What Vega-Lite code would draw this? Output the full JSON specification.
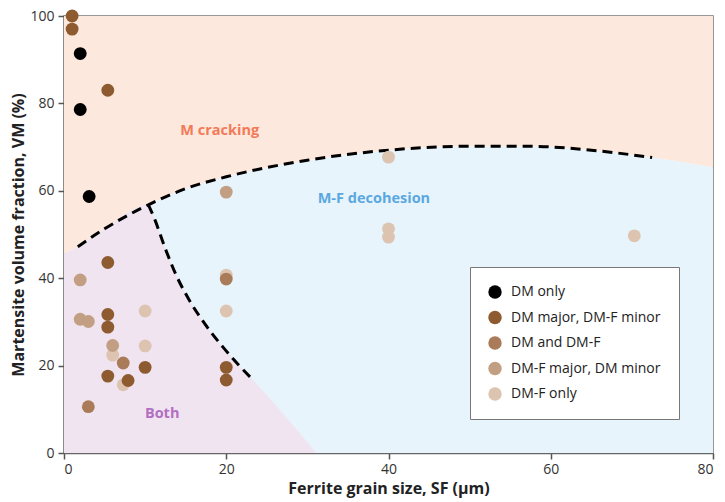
{
  "$schema": "https://vega.github.io/schema/vega-lite/v6.json",
  "width": 649,
  "height": 437,
  "autosize": {"type": "none"},
  "padding": {"left": 64, "top": 16, "right": 12, "bottom": 49},
  "background": "white",
  "config": {
    "font": "Open Sans",
    "view": {"stroke": "#777", "strokeWidth": 1.5},
    "axis": {
      "domainColor": "#666", "domainWidth": 1.5, "tickColor": "#555", "tickWidth": 1.5, "tickSize": 6,
      "labelFontSize": 14, "labelColor": "#333", "labelFont": "Open Sans",
      "titleFontSize": 16, "titleFontWeight": "bold", "titleColor": "#222", "titleFont": "Open Sans",
      "grid": false
    }
  },
  "datasets": {
    "upper": [
      {"x": 0, "y": 45.5}, {"x": 1.7, "y": 47.2}, {"x": 5, "y": 51.3}, {"x": 10.4, "y": 56.8},
      {"x": 15, "y": 60.5}, {"x": 20, "y": 63.2}, {"x": 30, "y": 67}, {"x": 40, "y": 69.3},
      {"x": 50, "y": 70.2}, {"x": 57, "y": 70.2}, {"x": 65, "y": 69.3}, {"x": 72.5, "y": 67.6}, {"x": 80, "y": 65.4}
    ],
    "dash1": [
      {"x": 1.7, "y": 47.2}, {"x": 5, "y": 51.3}, {"x": 10.4, "y": 56.8},
      {"x": 15, "y": 60.5}, {"x": 20, "y": 63.2}, {"x": 30, "y": 67}, {"x": 40, "y": 69.3},
      {"x": 50, "y": 70.2}, {"x": 57, "y": 70.2}, {"x": 65, "y": 69.3}, {"x": 72.5, "y": 67.6}
    ],
    "purple": [
      {"x": 0, "y": 45.5}, {"x": 1.7, "y": 47.2}, {"x": 5, "y": 51.3}, {"x": 10.4, "y": 56.8},
      {"x": 11.2, "y": 53.4}, {"x": 12.4, "y": 47.2}, {"x": 13.8, "y": 40.8}, {"x": 15.5, "y": 34.8},
      {"x": 17.5, "y": 29.2}, {"x": 19.7, "y": 24}, {"x": 21.5, "y": 20.2}, {"x": 23.1, "y": 17.1}, {"x": 31.1, "y": 0}
    ],
    "dash2": [
      {"x": 10.4, "y": 56.8}, {"x": 11.2, "y": 53.4}, {"x": 12.4, "y": 47.2}, {"x": 13.8, "y": 40.8},
      {"x": 15.5, "y": 34.8}, {"x": 17.5, "y": 29.2}, {"x": 19.7, "y": 24}, {"x": 21.5, "y": 20.2}, {"x": 23.1, "y": 17.1}
    ],
    "pts": [
      {"x": 6, "y": 22.4, "cat": "DM-F only"},
      {"x": 7.3, "y": 15.6, "cat": "DM-F only"},
      {"x": 10, "y": 32.5, "cat": "DM-F only"},
      {"x": 10, "y": 24.5, "cat": "DM-F only"},
      {"x": 20, "y": 40.7, "cat": "DM-F only"},
      {"x": 20, "y": 32.5, "cat": "DM-F only"},
      {"x": 40, "y": 67.7, "cat": "DM-F only"},
      {"x": 40, "y": 51.3, "cat": "DM-F only"},
      {"x": 40, "y": 49.4, "cat": "DM-F only"},
      {"x": 70.3, "y": 49.7, "cat": "DM-F only"},
      {"x": 2, "y": 39.6, "cat": "DM-F major, DM minor"},
      {"x": 2, "y": 30.6, "cat": "DM-F major, DM minor"},
      {"x": 3, "y": 30.1, "cat": "DM-F major, DM minor"},
      {"x": 6, "y": 24.6, "cat": "DM-F major, DM minor"},
      {"x": 20, "y": 59.7, "cat": "DM-F major, DM minor"},
      {"x": 7.3, "y": 20.6, "cat": "DM and DM-F"},
      {"x": 3, "y": 10.6, "cat": "DM and DM-F"},
      {"x": 20, "y": 39.8, "cat": "DM and DM-F"},
      {"x": 1, "y": 100, "cat": "DM major, DM-F minor"},
      {"x": 1, "y": 97, "cat": "DM major, DM-F minor"},
      {"x": 5.4, "y": 83, "cat": "DM major, DM-F minor"},
      {"x": 5.4, "y": 43.6, "cat": "DM major, DM-F minor"},
      {"x": 5.4, "y": 31.7, "cat": "DM major, DM-F minor"},
      {"x": 5.4, "y": 28.8, "cat": "DM major, DM-F minor"},
      {"x": 5.4, "y": 17.6, "cat": "DM major, DM-F minor"},
      {"x": 7.9, "y": 16.6, "cat": "DM major, DM-F minor"},
      {"x": 10, "y": 19.6, "cat": "DM major, DM-F minor"},
      {"x": 20, "y": 19.6, "cat": "DM major, DM-F minor"},
      {"x": 20, "y": 16.7, "cat": "DM major, DM-F minor"},
      {"x": 2, "y": 91.4, "cat": "DM only"},
      {"x": 2, "y": 78.6, "cat": "DM only"},
      {"x": 3.1, "y": 58.7, "cat": "DM only"}
    ]
  },
  "layer": [
    {
      "data": {"name": "upper"},
      "mark": {"type": "area", "color": "#e7f4fc", "interpolate": "monotone", "clip": true},
      "encoding": {
        "x": {"field": "x", "type": "quantitative", "scale": {"domain": [0, 80], "nice": false},
              "axis": {"values": [0, 20, 40, 60, 80], "title": "Ferrite grain size, SF (µm)", "titlePadding": 4, "labelPadding": 3}},
        "y": {"field": "y", "type": "quantitative", "scale": {"domain": [0, 100], "nice": false},
              "axis": {"values": [0, 20, 40, 60, 80, 100], "title": "Martensite volume fraction, VM (%)", "titlePadding": 3, "labelPadding": 4}},
        "y2": {"datum": 0}
      }
    },
    {
      "data": {"name": "upper"},
      "mark": {"type": "area", "color": "#fde8dd", "interpolate": "monotone", "clip": true},
      "encoding": {
        "x": {"field": "x", "type": "quantitative"},
        "y": {"field": "y", "type": "quantitative"},
        "y2": {"datum": 100}
      }
    },
    {
      "data": {"name": "purple"},
      "mark": {"type": "area", "color": "#f0e4f1", "interpolate": "monotone", "clip": true},
      "encoding": {
        "x": {"field": "x", "type": "quantitative"},
        "y": {"field": "y", "type": "quantitative"},
        "y2": {"datum": 0}
      }
    },
    {
      "data": {"name": "dash1"},
      "mark": {"type": "line", "color": "black", "strokeWidth": 3, "strokeDash": [10, 6], "interpolate": "monotone"},
      "encoding": {
        "x": {"field": "x", "type": "quantitative"},
        "y": {"field": "y", "type": "quantitative"}
      }
    },
    {
      "data": {"name": "dash2"},
      "mark": {"type": "line", "color": "black", "strokeWidth": 3, "strokeDash": [10, 6], "interpolate": "monotone"},
      "encoding": {
        "x": {"field": "x", "type": "quantitative"},
        "y": {"field": "y", "type": "quantitative"}
      }
    },
    {
      "data": {"values": [{"x": 19.2, "y": 73.6, "t": "M cracking"}]},
      "mark": {"type": "text", "color": "#f27a58", "fontSize": 14.5, "fontWeight": "bold", "font": "Open Sans"},
      "encoding": {"x": {"field": "x", "type": "quantitative"}, "y": {"field": "y", "type": "quantitative"}, "text": {"field": "t"}}
    },
    {
      "data": {"values": [{"x": 38.2, "y": 58.2, "t": "M-F decohesion"}]},
      "mark": {"type": "text", "color": "#5ba8e0", "fontSize": 14.5, "fontWeight": "bold", "font": "Open Sans"},
      "encoding": {"x": {"field": "x", "type": "quantitative"}, "y": {"field": "y", "type": "quantitative"}, "text": {"field": "t"}}
    },
    {
      "data": {"values": [{"x": 12.1, "y": 9, "t": "Both"}]},
      "mark": {"type": "text", "color": "#b26fc2", "fontSize": 14.5, "fontWeight": "bold", "font": "Open Sans"},
      "encoding": {"x": {"field": "x", "type": "quantitative"}, "y": {"field": "y", "type": "quantitative"}, "text": {"field": "t"}}
    },
    {
      "data": {"name": "pts"},
      "mark": {"type": "circle", "size": 165, "opacity": 1, "clip": false},
      "encoding": {
        "x": {"field": "x", "type": "quantitative"},
        "y": {"field": "y", "type": "quantitative"},
        "color": {
          "field": "cat", "type": "nominal",
          "scale": {
            "domain": ["DM only", "DM major, DM-F minor", "DM and DM-F", "DM-F major, DM minor", "DM-F only"],
            "range": ["#000000", "#8e5b31", "#a97b58", "#c29f82", "#dcc4b1"]
          },
          "legend": {
            "title": null, "orient": "none", "legendX": 406, "legendY": 251,
            "fillColor": "white", "strokeColor": "#777", "padding": 18,
            "symbolType": "circle", "symbolSize": 180, "symbolStrokeWidth": 0, "symbolOpacity": 1,
            "labelFontSize": 14, "labelFont": "Open Sans", "labelColor": "#222", "labelOffset": 9, "rowPadding": 11.5
          }
        }
      }
    }
  ]
}
